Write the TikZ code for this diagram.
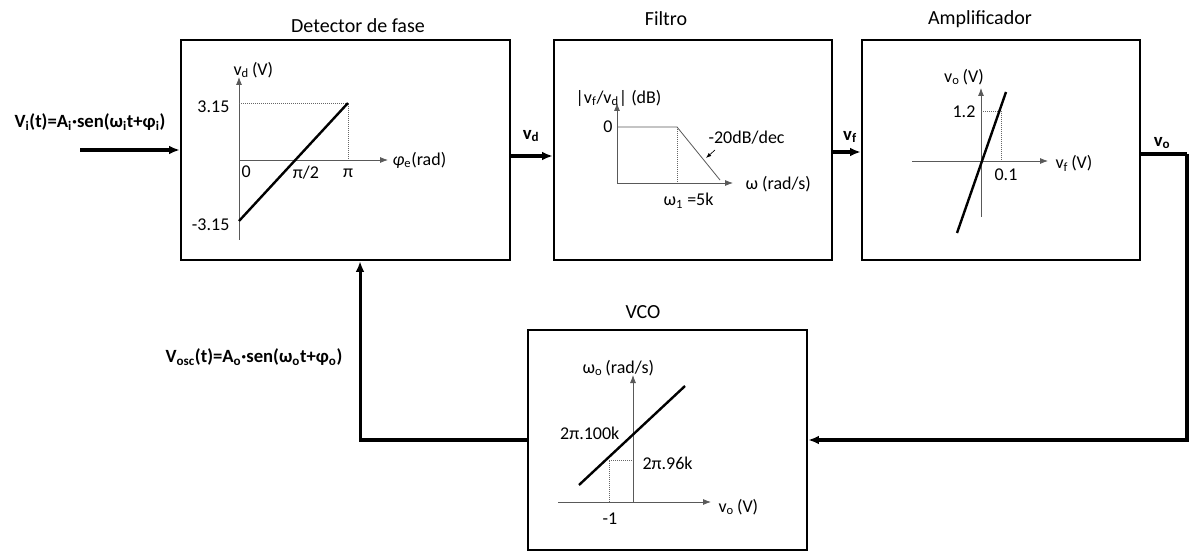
\documentclass[tikz,border=0pt]{standalone}
\usepackage{fontspec}
\setmainfont{Carlito}
\usetikzlibrary{arrows.meta}
\tikzset{
  blockbox/.style={draw,line width=1.8pt,minimum height=165pt,inner sep=0pt},
  sig/.style={-{Latex[length=8pt,width=6.5pt]},line width=2.3pt},
  axis/.style={-{Latex[length=6pt,width=4.5pt]},draw=black!65,line width=0.6pt},
  curve/.style={line width=1.8pt},
  guide/.style={densely dotted,draw=black!60,line width=0.5pt},
  title/.style={font=\fontsize{15}{17}\selectfont,inner sep=1pt},
  lbl/.style={font=\fontsize{13.5}{15}\selectfont,inner sep=1pt},
  siglbl/.style={font=\fontsize{14}{16}\selectfont\bfseries,inner sep=1pt},
}

\begin{document}
\begin{tikzpicture}[x=0.75pt,y=-0.75pt]
\useasboundingbox (0,0) rectangle (1189,552);

% bloques del lazo
\node[blockbox,minimum width=246.75pt] (det) at (345.5,150) {};
\node[blockbox,minimum width=208.5pt] (fil) at (693,150) {};
\node[blockbox,minimum width=208.5pt] (amp) at (1001,150) {};
\node[blockbox,minimum width=209.25pt] (vco) at (667.5,440) {};

\node[title] (tdet) at (358,26) {Detector de fase};
\node[title] (tfil) at (666,19) {Filtro};
\node[title] (tamp) at (980,19) {Amplificador};
\node[title] (tvco) at (643,312) {VCO};

% senales
\coordinate (vin) at (80,150);
\coordinate (vo) at (1187,154);
\draw[sig] (vin) -- (vin -| det.west);
\draw[sig] ([yshift=-4.5pt]det.east) -- ([yshift=-4.5pt]fil.west);
\draw[sig] ([yshift=-1.5pt]fil.east) -- ([yshift=-1.5pt]amp.west);
\draw[line width=2.3pt] ([yshift=-3pt]amp.east) -- (vo);
\draw[sig] (vo) |- (vco.east);
\draw[sig] (vco.west) -| ([xshift=10.9pt]det.south);

\node[siglbl] (lvi) at (90,122) {V\textsubscript{i}(t)=A\textsubscript{i}·sen(ω\textsubscript{i}t+φ\textsubscript{i})};
\node[siglbl] (lvosc) at (254,357) {V\textsubscript{osc}(t)=A\textsubscript{o}·sen(ω\textsubscript{o}t+φ\textsubscript{o})};
\node[siglbl] (lvd) at (531,136) {v\textsubscript{d}};
\node[siglbl] (lvf) at (850,137) {v\textsubscript{f}};
\node[siglbl] (lvo) at (1162,143) {v\textsubscript{o}};

% detector de fase
\draw[axis] (239,240) -- (239,77);
\draw[axis] (239,160) -- (388,160);
\draw[guide] (239,103) -- (348,103) -- (348,160);
\draw[curve] (239,221) -- (348,103);
\node[lbl,anchor=west] at (232,70) {v\textsubscript{d}\,(V)};
\node[lbl,anchor=east] at (231,107) {3.15};
\node[lbl,anchor=east] at (231,225) {-3.15};
\node[lbl,anchor=west] at (240,172) {0};
\node[lbl] at (306,173) {π/2};
\node[lbl] at (348,173) {π};
\node[lbl,anchor=west] at (391,160) {\textit{φ}\textsubscript{e}(rad)};

% filtro
\draw[axis] (617,183) -- (617,103);
\draw[axis] (617,183) -- (733,183);
\draw[guide] (677,127) -- (677,183);
\draw[line width=0.6pt,draw=black!65] (617,127) -- (677,127) -- (720,180);
\draw[-{Latex[length=4pt,width=3pt]},line width=0.5pt] (715,150) -- (706,158);
\node[lbl,anchor=west] at (574,98) {|v\textsubscript{f}/v\textsubscript{d}| (dB)};
\node[lbl,anchor=east] at (614,127) {0};
\node[lbl,anchor=west] at (707,138) {-20dB/dec};
\node[lbl,anchor=west] at (662,201) {ω\textsubscript{1} =5k};
\node[lbl,anchor=west] at (744,184) {ω (rad/s)};

% amplificador
\draw[axis] (981,217) -- (981,88);
\draw[axis] (912,161) -- (1048,161);
\draw[guide] (981,111) -- (1001,111) -- (1001,161);
\draw[curve] (957,233) -- (1006,92);
\node[lbl] at (964,77) {v\textsubscript{o}\,(V)};
\node[lbl,anchor=east] at (977,112) {1.2};
\node[lbl] at (1006,175) {0.1};
\node[lbl,anchor=west] at (1054,163) {v\textsubscript{f}\,(V)};

% vco
\draw[axis] (633,502) -- (633,375);
\draw[axis] (558,502) -- (711,502);
\draw[guide] (609,502) -- (609,460) -- (633,460);
\draw[curve] (579,485) -- (685,386);
\node[lbl,anchor=west] at (581,368) {ω\textsubscript{o}\,(rad/s)};
\node[lbl,anchor=east] at (621,433) {2π.100k};
\node[lbl,anchor=west] at (641,463) {2π.96k};
\node[lbl] at (610,519) {-1};
\node[lbl,anchor=west] at (717,507) {v\textsubscript{o}\,(V)};
\end{tikzpicture}
\end{document}
